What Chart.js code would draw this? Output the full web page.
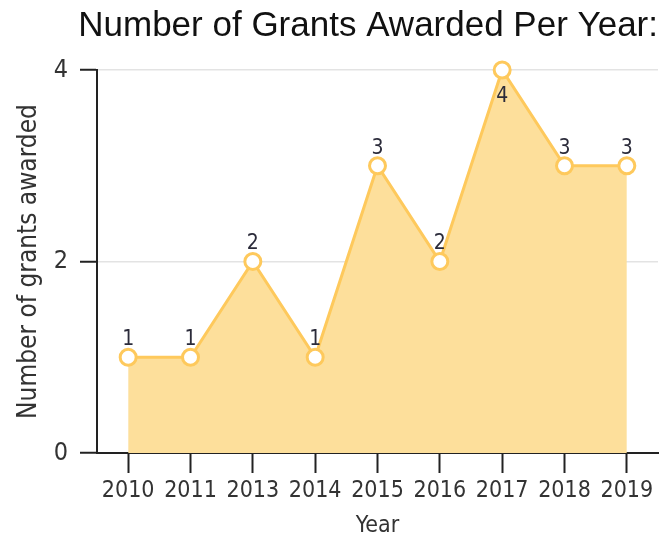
<!DOCTYPE html>
<html>
<head>
<meta charset="utf-8">
<script src="https://cdn.jsdelivr.net/npm/chart.js@4.4.1/dist/chart.umd.min.js"></script>
<style>
  html, body { margin: 0; padding: 0; background: #fff; }
  #wrap { width: 670px; height: 544px; }
</style>
</head>
<body>
<div id="wrap"><canvas id="grants"></canvas></div>
<script>
const years = ["2010", "2011", "2013", "2014", "2015", "2016", "2017", "2018", "2019"];
const grants = [1, 1, 2, 1, 3, 2, 4, 3, 3];
const yTicks = [0, 2, 4];

const narrow = "'Liberation Sans Narrow', 'DejaVu Sans Condensed', sans-serif";

// numbers over the points, the top one goes under its point
const pointLabels = {
  id: "pointLabels",
  afterDatasetsDraw(chart) {
    const ctx = chart.ctx;
    const meta = chart.getDatasetMeta(0);
    const top = Math.max(...grants);
    ctx.save();
    ctx.font = "21px " + narrow;
    ctx.fillStyle = "#2b2b3a";
    ctx.textAlign = "center";
    meta.data.forEach((pt, i) => {
      const v = chart.data.datasets[0].data[i];
      if (v === top) {
        ctx.textBaseline = "top";
        ctx.fillText(v, pt.x, pt.y + 16);
      } else {
        ctx.textBaseline = "bottom";
        ctx.fillText(v, pt.x, pt.y - 7);
      }
    });
    ctx.restore();
  }
};

new Chart(document.getElementById("grants"), {
  type: "line",
  data: {
    labels: years,
    datasets: [{
      data: grants,
      borderColor: "#fec95c",
      backgroundColor: "#fddf9b",
      borderWidth: 3,
      fill: "origin",
      tension: 0,
      clip: false,
      pointRadius: 8,
      pointBorderWidth: 3,
      pointBackgroundColor: "#ffffff",
      pointBorderColor: "#fec95c"
    }]
  },
  options: {
    responsive: true,
    maintainAspectRatio: false,
    animation: false,
    layout: { padding: { left: 8, right: 12, top: 4, bottom: 2 } },
    plugins: {
      legend: { display: false },
      tooltip: { enabled: false },
      title: {
        display: true,
        text: "Number of Grants Awarded Per Year:",
        align: "end",
        color: "#111",
        font: { family: "'Liberation Sans', Arial, sans-serif", size: 35, weight: "normal" },
        padding: { top: 1, bottom: 23 }
      }
    },
    scales: {
      x: {
        offset: true,
        afterFit(scale) { scale.height = 89; },
        grid: { drawOnChartArea: false, drawTicks: true, tickLength: 20, tickColor: "#222", tickWidth: 2 },
        border: { color: "#222", width: 2 },
        ticks: { color: "#333", font: { family: narrow, size: 23 }, padding: 4, maxRotation: 0, autoSkip: false },
        title: { display: true, text: "Year", color: "#333", font: { family: narrow, size: 23 }, padding: { top: 8, bottom: 2 } }
      },
      y: {
        min: 0,
        max: 4,
        afterFit(scale) { scale.width = 89; },
        afterBuildTicks(scale) { scale.ticks = yTicks.map(v => ({ value: v })); },
        grid: { color: "#e3e3e3", lineWidth: 1.5, tickLength: 17, tickColor: "#222", tickWidth: 2 },
        border: { color: "#222", width: 2 },
        ticks: { color: "#333", font: { family: narrow, size: 25 }, padding: 12 },
        title: { display: true, text: "Number of grants awarded", color: "#333", font: { family: narrow, size: 26 }, padding: { top: 6, bottom: 4 } }
      }
    }
  },
  plugins: [pointLabels]
});
</script>
</body>
</html>
